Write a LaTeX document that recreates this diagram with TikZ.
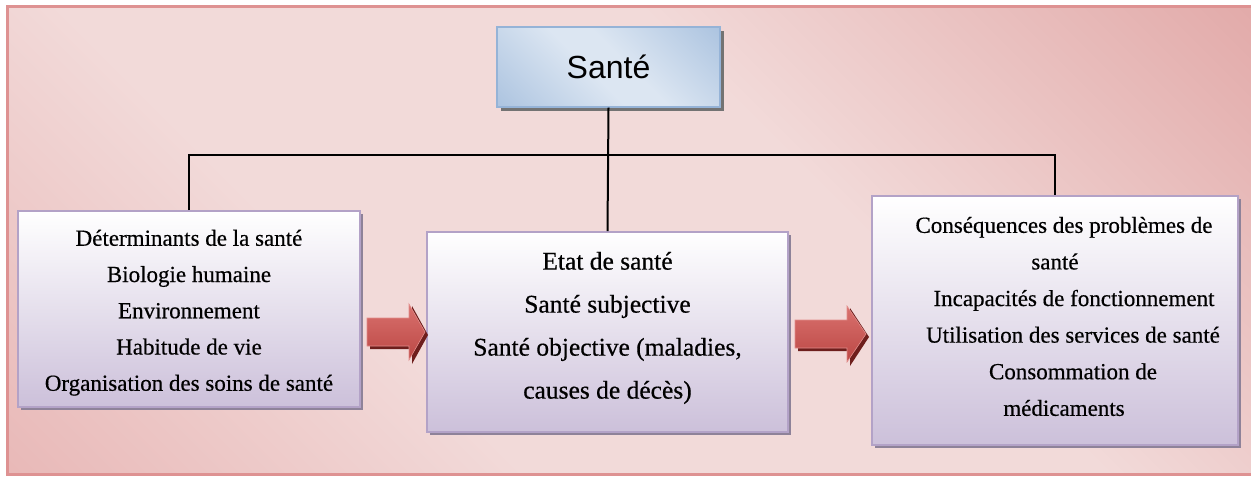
\documentclass[tikz,border=0pt]{standalone}
\usepackage{fontspec}
\setmainfont{Liberation Serif}[FakeBold=0.5]
\newfontfamily\headfont{Liberation Sans}
\usetikzlibrary{shadows}

\definecolor{bgdarkA}{HTML}{E2A2A1}
\definecolor{bgdarkB}{HTML}{D98F8E}
\definecolor{bglight}{HTML}{F2DAD9}
\definecolor{framecol}{HTML}{DE9292}
\definecolor{bluedark}{HTML}{95B3D7}
\definecolor{bluelight}{HTML}{DCE6F2}
\definecolor{lavtop}{HTML}{FFFFFF}
\definecolor{lavbot}{HTML}{CCC0DA}
\definecolor{lavline}{HTML}{B3A2C7}
\definecolor{lavshadow}{HTML}{8E8299}
\definecolor{arrowtop}{HTML}{D9716E}
\definecolor{arrowbot}{HTML}{BC4744}
\definecolor{arrowshadow}{HTML}{6E1E1C}

\pgfdeclarehorizontalshading{framebg}{100bp}{color(0bp)=(bgdarkA); color(36bp)=(bglight); color(60bp)=(bglight); color(100bp)=(bgdarkB)}
\pgfdeclarehorizontalshading{titlebg}{100bp}{color(0bp)=(bluedark); color(45bp)=(bluelight); color(55bp)=(bluelight); color(100bp)=(bluedark)}

% centred lines of a box, drawn #1 higher while keeping their natural size
\newcommand{\boxlines}[2]{\raisebox{#1}[\height][\depth]{\begin{tabular}{@{}c@{}}#2\end{tabular}}}

\tikzset{
  infobox/.style={draw=lavline, line width=1.8pt, top color=lavtop, bottom color=lavbot,
    align=center, inner sep=0pt,
    drop shadow={shadow xshift=3pt, shadow yshift=-3pt, fill=lavshadow, opacity=1}},
  titlebox/.style={draw=bluedark, line width=1.2pt, shading=titlebg, shading angle=45,
    inner sep=0pt, minimum width=223pt, minimum height=80pt,
    font=\headfont\fontsize{32}{38}\selectfont,
    drop shadow={shadow xshift=4pt, shadow yshift=-4pt, fill=black!55, opacity=1}},
  conn/.style={draw=black, line width=2pt},
}

\newcommand{\fatarrow}[4]{% tail x, centre y, neck x, tip x
  \fill[arrowshadow] (#1+3,#2-12) -- (#3+3,#2-12) -- (#3+3,#2-26) -- (#4+3,#2+3)
    -- (#3+3,#2+32) -- (#3+3,#2+17) -- (#1+3,#2+17) -- cycle;
  \path[top color=arrowtop, bottom color=arrowbot, draw=arrowtop!80!white, line width=0.6pt]
    (#1,#2-14) -- (#3,#2-14) -- (#3,#2-28) -- (#4,#2) -- (#3,#2+28) -- (#3,#2+14)
    -- (#1,#2+14) -- cycle;
}

\begin{document}
\begin{tikzpicture}[x=1pt, y=-1pt]
  \useasboundingbox (0,0) rectangle (1251,479);

  % background panel
  \path[draw=framecol, line width=3pt, shading=framebg, shading angle=45]
    (7,6) rectangle (1255,474);

  % title
  \node[titlebox] (sante) at (608.5,67) {Santé};

  % three content boxes
  \node[infobox, minimum width=342pt, minimum height=196pt,
        font=\fontsize{23}{36.25}\selectfont] (left) at (189,309)
    {\boxlines{-2pt}{Déterminants de la santé\\Biologie humaine\\Environnement\\Habitude de vie\\Organisation des soins de santé}};
  \node[infobox, minimum width=361pt, minimum height=200pt,
        font=\fontsize{25.5}{43}\selectfont] (mid) at (607.5,332)
    {\boxlines{6.5pt}{Etat de santé\\Santé subjective\\Santé objective (maladies,\\causes de décès)}};
  \node[infobox, minimum width=366pt, minimum height=249pt,
        font=\fontsize{23}{36.6}\selectfont] (right) at (1055,320.5)
    {\boxlines{3.5pt}{\hspace*{18pt}Conséquences des problèmes de\\santé\\\hspace*{38pt}Incapacités de fonctionnement\\\hspace*{36pt}Utilisation des services de santé\\\hspace*{36pt}Consommation de\\\hspace*{18pt}médicaments}};

  % tree connectors
  \coordinate (bar) at (608,155);
  \draw[conn] (sante.south) -- (mid.north);
  \draw[conn] (left.north) -- (left.north |- bar) -- (right.north |- bar) -- (right.north);

  % flow arrows
  \fatarrow{367}{332}{409}{425}
  \fatarrow{795}{334}{847}{866}
\end{tikzpicture}
\end{document}
